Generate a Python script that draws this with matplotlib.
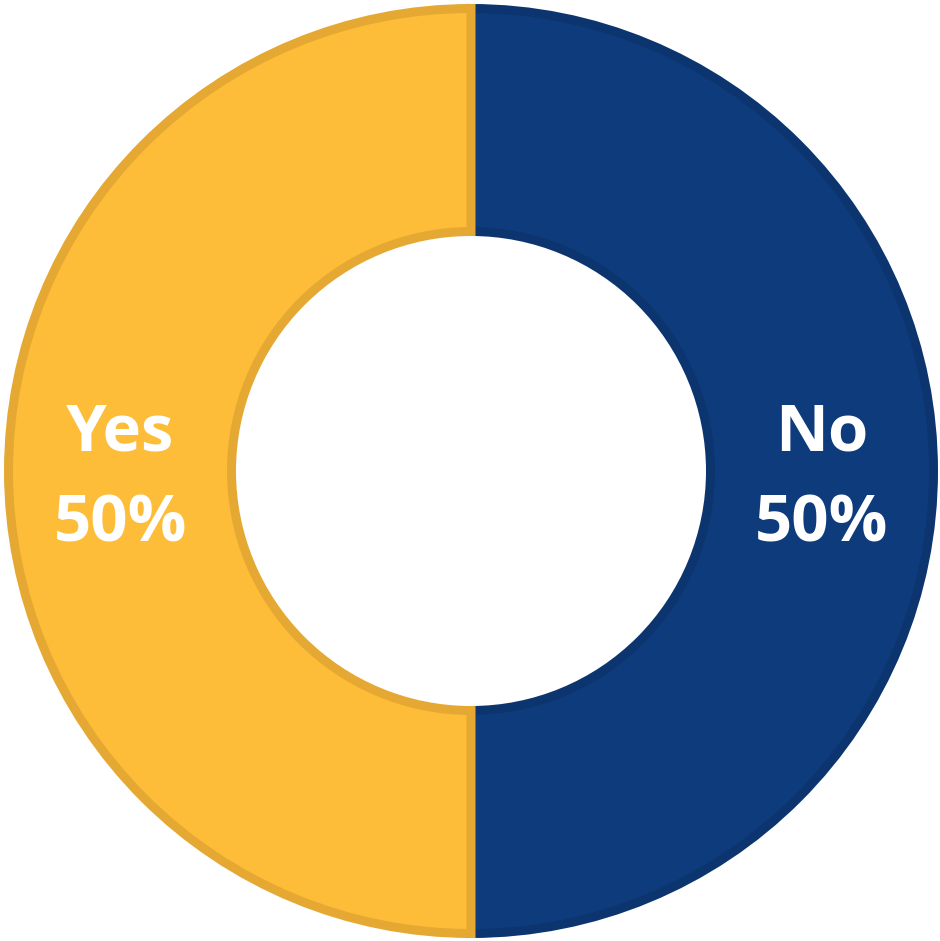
import matplotlib.pyplot as plt

labels = ['No', 'Yes']
values = [50, 50]
colors = ['#0E3B7C', '#FDBD39']
edge_colors = ['#0C356F', '#E5A933']

W, H, DPI = 940, 941, 100
px = 1 / 467.0  # data units per pixel (outer radius = 467 px)
lw_px = 9

fig = plt.figure(figsize=(W / DPI, H / DPI), dpi=DPI)
ax = fig.add_axes([0, 0, 1, 1])
ax.axis('off')

r_out = 1 - lw_px / 2 * px
r_in = 235 * px + lw_px / 2 * px
wedges, _ = ax.pie(values, colors=colors, startangle=90, counterclock=False,
                   radius=r_out,
                   wedgeprops=dict(width=r_out - r_in, linewidth=lw_px * 72 / DPI))
for w, ec in zip(wedges, edge_colors):
    w.set_edgecolor(ec)

# labels in the middle of the ring
for lab, val, xs in zip(labels, values, [1, -1]):
    x = xs * 351 * px
    ax.text(x, 37 * px, lab, ha='center', va='center', color='white',
            fontsize=47, fontweight='bold', family=['Open Sans', 'DejaVu Sans'])
    ax.text(x, -54 * px, f'{val}%', ha='center', va='center', color='white',
            fontsize=47, fontweight='bold', family=['Open Sans', 'DejaVu Sans'])

ax.set_xlim(-471 * px, (W - 471) * px)
ax.set_ylim(-470 * px, (H - 470) * px)
ax.set_aspect('auto')

fig.savefig('out.png', dpi=DPI)
